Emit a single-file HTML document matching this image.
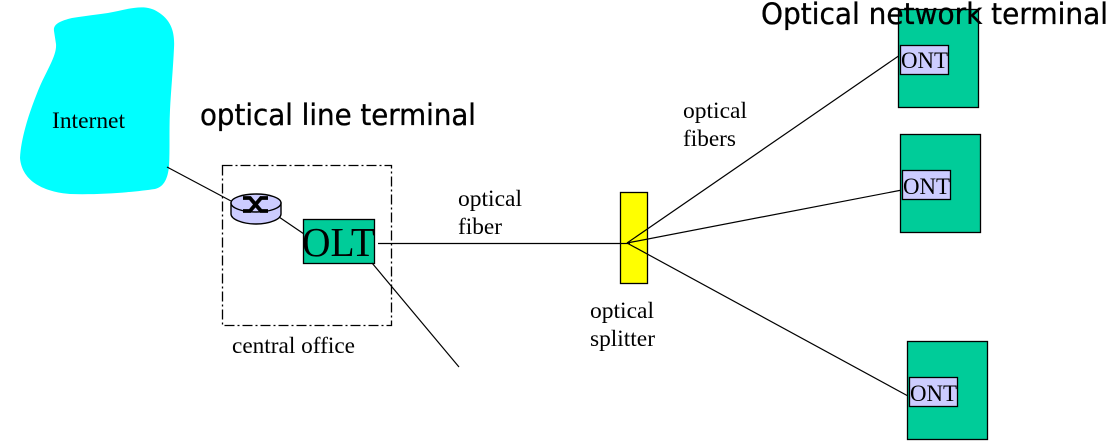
<!DOCTYPE html>
<html>
<head>
<meta charset="utf-8">
<style>
html,body{margin:0;padding:0;background:#fff;width:1114px;height:444px;overflow:hidden}
svg{display:block}
.s{font-family:"Liberation Serif",serif;fill:#000}
.c{font-family:"DejaVu Sans",sans-serif;fill:#000;stroke:#000;stroke-width:.35}
</style>
</head>
<body>
<svg width="1114" height="444" viewBox="0 0 1114 444" xmlns="http://www.w3.org/2000/svg">
<path d="M54 31C53 24 60 21 72 18C90 15 105 14 118 11C135 7 148 5 158 12C171 20 175 32 174 48C173 70 171 90 170 110C169 130 170 150 169 166C168 178 164 187 155 189C135 192 100 195 70 194C45 192 22 182 20 158C21 135 32 105 40 86C47 70 57 55 56 44Z" fill="#00ffff"/>
<text class="s" x="52" y="128" font-size="23.500" textLength="73" lengthAdjust="spacingAndGlyphs">Internet</text>
<text class="c" x="200" y="125" font-size="29" textLength="276" lengthAdjust="spacingAndGlyphs">optical line terminal</text>

<rect x="222.500" y="165.500" width="169" height="160" fill="none" stroke="#000" stroke-width="1.300" stroke-dasharray="10 3 2 3"/>
<line x1="167" y1="167" x2="231" y2="201" stroke="#000" stroke-width="1.200"/>
<line x1="279" y1="217" x2="304" y2="234" stroke="#000" stroke-width="1.200"/>
<path d="M231 203V214C231 219 242 224 256 224C270 224 281 219 281 214V203Z" fill="#ccccff" stroke="#000" stroke-width="1.400"/>
<ellipse cx="256" cy="203" rx="25" ry="9" fill="#ccccff" stroke="#000" stroke-width="1.400"/>
<path d="M243 198H250L261 211H268M243 211H250L261 198H268" fill="none" stroke="#000" stroke-width="3.800"/>

<rect x="303.500" y="219.500" width="71" height="44" fill="#00cc99" stroke="#000" stroke-width="1.300"/>
<text class="s" x="302" y="256" font-size="41" textLength="73" lengthAdjust="spacingAndGlyphs">OLT</text>
<text class="s" x="232" y="353" font-size="23.500" textLength="123" lengthAdjust="spacingAndGlyphs">central office</text>

<line x1="378" y1="243.500" x2="628" y2="243.500" stroke="#000" stroke-width="1.200"/>
<line x1="372" y1="263" x2="459" y2="367" stroke="#000" stroke-width="1.200"/>
<text class="s" x="458" y="206" font-size="23.500" textLength="64" lengthAdjust="spacingAndGlyphs">optical</text>
<text class="s" x="458" y="234" font-size="23.500" textLength="44" lengthAdjust="spacingAndGlyphs">fiber</text>

<rect x="620.500" y="192.500" width="27" height="91" fill="#ffff00" stroke="#000" stroke-width="1.300"/>
<line x1="627" y1="243" x2="900" y2="55" stroke="#000" stroke-width="1.200"/>
<line x1="627" y1="243" x2="902" y2="190" stroke="#000" stroke-width="1.200"/>
<line x1="627" y1="243" x2="908" y2="396" stroke="#000" stroke-width="1.200"/>
<line x1="620" y1="243.500" x2="630" y2="243.500" stroke="#000" stroke-width="1.200"/>
<text class="s" x="590" y="318" font-size="23.500" textLength="64" lengthAdjust="spacingAndGlyphs">optical</text>
<text class="s" x="590" y="346" font-size="23.500" textLength="65" lengthAdjust="spacingAndGlyphs">splitter</text>
<text class="s" x="683" y="118" font-size="23.500" textLength="64" lengthAdjust="spacingAndGlyphs">optical</text>
<text class="s" x="683" y="146" font-size="23.500" textLength="53" lengthAdjust="spacingAndGlyphs">fibers</text>

<rect x="898.500" y="9.500" width="80" height="98" fill="#00cc99" stroke="#000" stroke-width="1.300"/>
<rect x="900.500" y="45.500" width="48" height="29" fill="#ccccff" stroke="#000" stroke-width="1.300"/>
<text class="s" x="901" y="68" font-size="23" textLength="47" lengthAdjust="spacingAndGlyphs">ONT</text>

<rect x="900.500" y="134.500" width="80" height="98" fill="#00cc99" stroke="#000" stroke-width="1.300"/>
<rect x="902.500" y="170.500" width="48" height="29" fill="#ccccff" stroke="#000" stroke-width="1.300"/>
<text class="s" x="903" y="194" font-size="23" textLength="47" lengthAdjust="spacingAndGlyphs">ONT</text>

<rect x="907.500" y="341.500" width="80" height="98" fill="#00cc99" stroke="#000" stroke-width="1.300"/>
<rect x="909.500" y="377.500" width="48" height="29" fill="#ccccff" stroke="#000" stroke-width="1.300"/>
<text class="s" x="910" y="401" font-size="23" textLength="47" lengthAdjust="spacingAndGlyphs">ONT</text>

<text class="c" x="761" y="24" font-size="29" textLength="347" lengthAdjust="spacingAndGlyphs">Optical network terminal</text>
</svg>
</body>
</html>
